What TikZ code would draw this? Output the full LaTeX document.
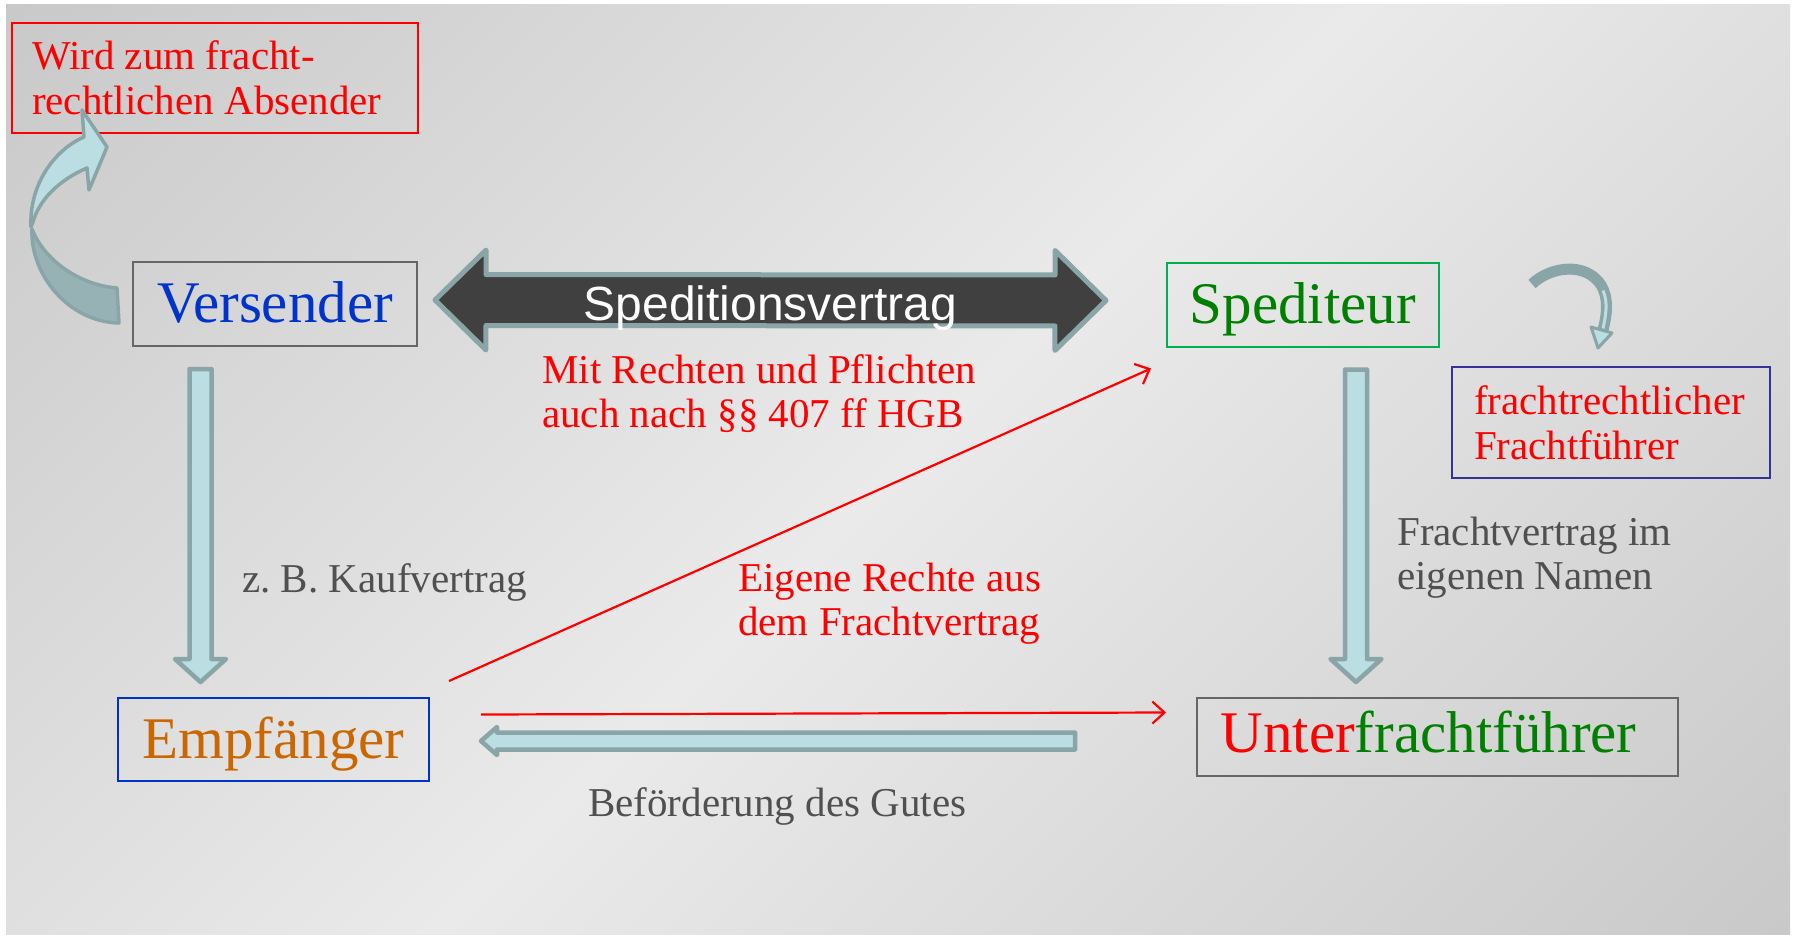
\documentclass[tikz,border=0pt]{standalone}
\usepackage{fontspec}
\setmainfont{Liberation Serif}
\setsansfont{Liberation Sans}
\usetikzlibrary{calc,arrows.meta}

\definecolor{bgdark}{HTML}{C9C9C9}
\definecolor{bglight}{HTML}{EAEAEA}
\definecolor{arrowfill}{HTML}{BADEE2}
\definecolor{arrowline}{HTML}{8AA5A8}
\definecolor{arrowback}{HTML}{96B2B5}
\definecolor{darkfill}{HTML}{404040}
\definecolor{versblue}{HTML}{0033CC}
\definecolor{spedgreen}{HTML}{008000}
\definecolor{spedframe}{HTML}{00B050}
\definecolor{empforange}{HTML}{CC6600}
\definecolor{boxgray}{HTML}{666666}
\definecolor{navyframe}{HTML}{333399}
\definecolor{textgray}{HTML}{505050}

% slide background, dark in two corners
\pgfdeclarehorizontalshading{slidebg}{100bp}{color(0bp)=(bgdark); color(14.6bp)=(bgdark);
  color(50bp)=(bglight); color(85.4bp)=(bgdark); color(100bp)=(bgdark)}

\begin{document}
\begin{tikzpicture}
    [x=1pt, y=-1pt,
      party/.style={draw=boxgray, line width=2pt, inner sep=0pt, minimum height=84pt,
        text height=37pt, text depth=0pt, font=\fontsize{59}{64}\selectfont},
      notebox/.style={draw=red, line width=2pt, inner xsep=20pt, align=flush left, text=red,
        font=\fontsize{41}{45}\selectfont},
      note/.style={inner sep=0pt, anchor=north west, align=left,
        font=\fontsize{41}{44}\selectfont},
      rights/.style={red, line width=2.2pt, -{Straight Barb[length=12pt, width=22pt]}},
      % block arrow: half shaft, half head, head length
      blockarrow/.style n args={3}{fill=arrowfill, draw=arrowline, line width=4.5pt,
        line join=round, to path={
          ($(\tikztostart)!{#1*1pt}!90:(\tikztotarget)$)
          -- ($(\tikztotarget)!{veclen(#3,#1)*1pt}!{-atan(#1/#3)}:(\tikztostart)$)
          -- ($(\tikztotarget)!{veclen(#3,#2)*1pt}!{-atan(#2/#3)}:(\tikztostart)$)
          -- (\tikztotarget)
          -- ($(\tikztotarget)!{veclen(#3,#2)*1pt}!{atan(#2/#3)}:(\tikztostart)$)
          -- ($(\tikztotarget)!{veclen(#3,#1)*1pt}!{atan(#1/#3)}:(\tikztostart)$)
          -- ($(\tikztostart)!{#1*1pt}!-90:(\tikztotarget)$) -- cycle}},
      dblarrow/.style n args={3}{fill=darkfill, draw=arrowline, line width=5pt,
        line join=round, to path={
          (\tikztostart)
          -- ($(\tikztostart)!{veclen(#3,#2)*1pt}!{atan(#2/#3)}:(\tikztotarget)$)
          -- ($(\tikztostart)!{veclen(#3,#1)*1pt}!{atan(#1/#3)}:(\tikztotarget)$)
          -- ($(\tikztotarget)!{veclen(#3,#1)*1pt}!{-atan(#1/#3)}:(\tikztostart)$)
          -- ($(\tikztotarget)!{veclen(#3,#2)*1pt}!{-atan(#2/#3)}:(\tikztostart)$)
          -- (\tikztotarget)
          -- ($(\tikztotarget)!{veclen(#3,#2)*1pt}!{atan(#2/#3)}:(\tikztostart)$)
          -- ($(\tikztotarget)!{veclen(#3,#1)*1pt}!{atan(#1/#3)}:(\tikztostart)$)
          -- ($(\tikztostart)!{veclen(#3,#1)*1pt}!{-atan(#1/#3)}:(\tikztotarget)$)
          -- ($(\tikztostart)!{veclen(#3,#2)*1pt}!{-atan(#2/#3)}:(\tikztotarget)$)
          -- cycle}}]
    \useasboundingbox (0,0) rectangle (1793,937);
    \fill[white] (0,0) rectangle (1793,937);
    \shade[shading=slidebg, shading angle=-45] (6,4) rectangle (1790,934);

    % the four parties
    \node[party, minimum width=284pt, text=versblue] (vers) at (275,304) {Versender};
    \node[party, draw=spedframe, minimum width=272pt, text=spedgreen] (sped) at (1303,304.5) {Spediteur};
    \node[party, draw=versblue, minimum width=311pt, minimum height=83pt, text=empforange]
      (empf) at (273.5,739.5) {Empfänger};
    \node[party, minimum width=481pt, minimum height=78pt, text height=30pt, text=spedgreen]
      (unter) at (1437.5,737) {\textcolor{red}{Unter}frachtführer\hspace*{18pt}};

    % side notes in frames
    \node[notebox, text width=366pt, minimum height=110pt] (absender) at (215,78)
      {Wird zum fracht-\\rechtlichen Absender};
    \node[notebox, draw=navyframe, inner xsep=22pt, text width=274pt, minimum height=111pt]
      (fuehrer) at (1611,422.5) {frachtrechtlicher\\Frachtführer};

    % contracts
    \draw[dblarrow={25.5}{50}{51}] ([xshift=17pt,yshift=4pt]vers.east) to ([xshift=-60pt,yshift=4pt]sped.west);
    \node[font=\sffamily\fontsize{48}{54}\selectfont, text=white, inner sep=0pt,
      text height=34.4pt, text depth=0pt] (spedlabel) at (770.5,302.8) {Speditionsvertrag};
    \draw[blockarrow={11}{25.5}{23}] ([xshift=-74.5pt,yshift=-22pt]vers.south) to ([xshift=-73pt,yshift=15pt]empf.north);
    \draw[blockarrow={11}{25.5}{23}] ([xshift=53pt,yshift=-22pt]sped.south) to ([xshift=-81.5pt,yshift=15pt]unter.north);
    \draw[blockarrow={8.5}{14}{16}] ([xshift=-121pt,yshift=-4pt]unter.west) to ([xshift=51pt,yshift=-1.5pt]empf.east);

    % rights of the consignee
    \draw[rights] ([xshift=19pt,yshift=16pt]empf.north east) -- ([xshift=-15pt,yshift=-21pt]sped.south west);
    \draw[rights] ([xshift=51pt,yshift=25pt]empf.east) -- ([xshift=-30pt,yshift=24.5pt]unter.west);

    % curved arrows to the framed notes
    \begin{scope}[shift={(vers.west)}, draw=arrowline, line width=3.5pt, line join=round]
      \filldraw[fill=arrowback] (-15,-16) .. controls (-53,-19) and (-88,-44) .. (-100,-75)
        .. controls (-102,-29) and (-63,18) .. (-13,19) -- cycle;
      \filldraw[fill=arrowfill] (-101,-77) .. controls (-103,-119) and (-78,-154) .. (-48,-167)
        -- (-50,-194) -- (-25,-157) -- (-43,-114) -- (-45,-136)
        .. controls (-73,-124) and (-93,-104) .. (-99,-82) -- cycle;
    \end{scope}
    \begin{scope}[shift={(sped.east)}]
      \draw[arrowline, line width=11pt] (92,-20.5) .. controls (111,-38.5) and (146,-42.5) .. (161,-19.5)
        .. controls (169,-6.5) and (167,10.5) .. (163,25.5);
      \draw[arrowfill, line width=3pt] (163,-14) .. controls (168,-3) and (166,10.5) .. (163,24);
      \filldraw[fill=arrowfill, draw=arrowline, line width=3pt, line join=round]
        (151,22.5) -- (158,43.5) -- (172,28.5) -- cycle;
    \end{scope}

    % free labels
    \node[note, text=red] (pflichten) at (542,354) {Mit Rechten und Pflichten\\auch nach §§ 407 ff HGB};
    \node[note, text=textgray] (kauf) at (242,563) {z.\ B. Kaufvertrag};
    \node[note, text=red] (eigene) at (738,563) {Eigene Rechte aus\\dem Frachtvertrag};
    \node[note, text=textgray] (namen) at (1397,517) {Frachtvertrag im\\eigenen Namen};
    \node[note, text=textgray] (befoerd) at (588,787) {Beförderung des Gutes};
\end{tikzpicture}
\end{document}
